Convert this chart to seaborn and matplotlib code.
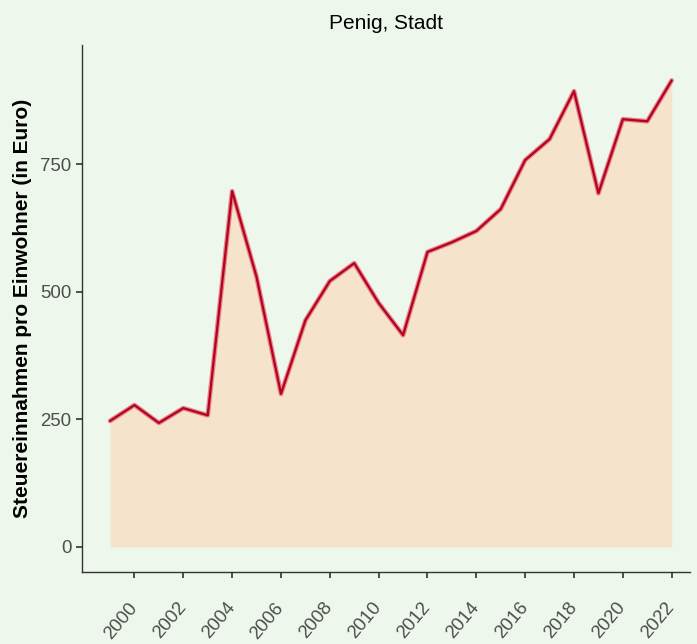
import matplotlib
matplotlib.use("Agg")
import matplotlib.pyplot as plt
import matplotlib.transforms as mtransforms
import seaborn as sns
import pandas as pd

years = list(range(1999, 2023))
values = [247, 278, 243, 272, 258, 697, 529, 300, 444, 521, 556, 478, 415,
          578, 597, 619, 662, 758, 799, 893, 693, 838, 834, 914]
xticks = list(range(2000, 2023, 2))
yticks = [0, 250, 500, 750]
title = "Penig, Stadt"
ylabel = "Steuereinnahmen pro Einwohner (in Euro)"

df = pd.DataFrame({"Jahr": years, "Wert": values})

sns.set_style("ticks")
plt.rcParams["font.family"] = ["Liberation Sans", "DejaVu Sans"]

bg = "#EEF7EC"
fig = plt.figure(figsize=(6.97, 6.44), dpi=100, facecolor=bg)
ax = fig.add_axes([0.1176, 0.1118, 0.872, 0.818])
ax.set_facecolor(bg)

ax.fill_between(df["Jahr"], 0, df["Wert"], color="#F5E3CB", lw=0)
sns.lineplot(data=df, x="Jahr", y="Wert", ax=ax, color="#E06A78", lw=3.4, alpha=0.8)
sns.lineplot(data=df, x="Jahr", y="Wert", ax=ax, color="#B5001E", lw=1.6)

ax.set_xlim(1997.85, 2022.74)
ax.set_ylim(-49, 983)
ax.set_xticks(xticks)
ax.set_xticklabels([str(t) for t in xticks], rotation=50, ha="right", va="center",
                   rotation_mode="anchor", fontsize=13.4, color="#4D4D4D")
offset = mtransforms.ScaledTranslation(10 / 100, 0, fig.dpi_scale_trans)
for lab in ax.get_xticklabels():
    lab.set_transform(lab.get_transform() + offset)
ax.set_yticks(yticks)
ax.set_yticklabels([str(t) for t in yticks], fontsize=13.4, color="#4D4D4D")
ax.tick_params(axis="x", length=4.5, width=1.2, color="#333333", pad=19)
ax.tick_params(axis="y", length=4.5, width=1.2, color="#333333", pad=3)
ax.set_xlabel("")
ax.set_ylabel(ylabel, fontsize=15, fontweight="bold", color="black", labelpad=6)
ax.set_title(title, fontsize=15, color="black", pad=12)
for s in ["top", "right"]:
    ax.spines[s].set_visible(False)
for s in ["left", "bottom"]:
    ax.spines[s].set_color("#333333")
    ax.spines[s].set_linewidth(1.0)

fig.savefig("out.png", dpi=100, facecolor=bg)
